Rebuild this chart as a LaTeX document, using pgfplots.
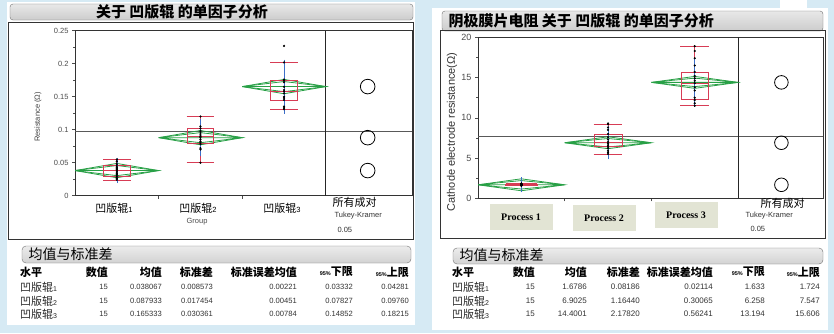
\documentclass[border=0pt]{standalone}
\usepackage{fontspec}
\setmainfont{Liberation Sans}
\newfontfamily\cjk{Noto Sans CJK SC}
\newfontfamily\seriffont{Liberation Serif}
\usepackage{pgfplots}
\pgfplotsset{compat=1.18}
\usepgfplotslibrary{statistics}
\definecolor{bgblue}{RGB}{214,234,244}
\definecolor{dgreen}{RGB}{40,160,70}
\definecolor{boxred}{RGB}{215,60,85}
\definecolor{mblue}{RGB}{60,110,200}
\definecolor{lblbox}{RGB}{226,228,212}
\newcommand{\fs}[1]{\fontsize{#1}{#1}\selectfont}
\pgfplotsset{
 jmp/.style={scale only axis, anchor=south west, axis line style={black!80, line width=0.8pt},
   tick align=outside, ytick pos=left, xtick pos=bottom, major tick length=3pt, minor tick length=2pt,
   tick style={black!70, line width=0.5pt}, minor y tick num=1, xtick={1,2}, xticklabels={},
   yticklabel style={font=\fs{7.5}, text=black!70}},
 diam/.style={dgreen, line width=0.8pt, mark=none},
 bx/.style={boxred, line width=0.7pt, solid, mark=none},
 pts/.style={only marks, mark=*, mark size=0.9pt, black},
 sdbar/.style={mblue, line width=0.6pt, mark=none, error bars/.cd, y dir=both, y explicit, error mark=-,
   error bar style={mblue, line width=0.6pt}, error mark options={mblue, mark size=7pt, line width=0.6pt}},
 grand/.style={black!65, line width=0.6pt, mark=none},
 divider/.style={black!85, line width=0.8pt, mark=none},
 circ/.style={only marks, mark=o, black, line width=0.8pt},
 boxplot/draw direction=y,
}
\begin{document}
\begin{tikzpicture}[x=1pt,y=1pt]
% background
\fill[bgblue] (0,0) rectangle (834,333);
\fill[white] (7,8) rectangle (415,331);
\fill[white] (432,3) rectangle (828,325);
\fill[white] (780,324) rectangle (807,333);
% title bars
\shade[top color=gray!18, bottom color=gray!40, rounded corners=3pt, draw=black!55] (10,313) rectangle (413,329);
\node[font=\cjk\bfseries\fs{15}] at (182,321) {关于 凹版辊 的单因子分析};
\shade[top color=gray!18, bottom color=gray!40, rounded corners=3pt, draw=black!55] (442,302) rectangle (823,322);
\node[font=\cjk\bfseries\fs{15}, anchor=west] at (445,312) {阴极膜片电阻 关于 凹版辊 的单因子分析};
% plot frames
\draw[black!80, line width=0.8pt] (8,94) rectangle (413,311);
\draw[black!80, line width=0.8pt] (440,95) rectangle (825,303);

%================ LEFT AXIS
\begin{axis}[jmp, at={(75pt,137.3pt)}, width=337pt, height=165pt,
  xmin=0, xmax=4.03, ymin=0, ymax=0.25,
  ytick={0,0.05,0.1,0.15,0.2,0.25}, yticklabels={0,0.05,0.1,0.15,0.2,0.25}]
\addplot[grand] coordinates {(0,0.097111) (4.03,0.097111)};
\addplot[divider] coordinates {(3,0) (3,0.25)};
% mean diamonds
\addplot[diam] coordinates {(0,0.038067) (0.5,0.048913) (1,0.038067) (0.5,0.027221) (0,0.038067)};
\addplot[diam] coordinates {(0,0.038067) (0.5,0.045736) (1,0.038067) (0.5,0.030398) (0,0.038067) (1,0.038067)};
\addplot[diam] coordinates {(1,0.087933) (1.5,0.098779) (2,0.087933) (1.5,0.077087) (1,0.087933)};
\addplot[diam] coordinates {(1,0.087933) (1.5,0.095602) (2,0.087933) (1.5,0.080264) (1,0.087933) (2,0.087933)};
\addplot[diam] coordinates {(2,0.165333) (2.5,0.176179) (3,0.165333) (2.5,0.154487) (2,0.165333)};
\addplot[diam] coordinates {(2,0.165333) (2.5,0.173002) (3,0.165333) (2.5,0.157664) (2,0.165333) (3,0.165333)};
% box plots
\addplot[bx, boxplot prepared={draw position=0.5, lower whisker=0.024, lower quartile=0.030, median=0.038, upper quartile=0.046, upper whisker=0.055, box extend=0.32, whisker extend=0.33}] coordinates {};
\addplot[bx, boxplot prepared={draw position=1.5, lower whisker=0.050, lower quartile=0.080, median=0.090, upper quartile=0.102, upper whisker=0.120, box extend=0.32, whisker extend=0.33}] coordinates {};
\addplot[bx, boxplot prepared={draw position=2.5, lower whisker=0.131, lower quartile=0.145, median=0.158, upper quartile=0.175, upper whisker=0.202, box extend=0.32, whisker extend=0.33}] coordinates {};
% mean +- sd
\addplot[sdbar] coordinates {(0.5,0.038067) +- (0,0.008573)};
\addplot[sdbar] coordinates {(1.5,0.087933) +- (0,0.017454)};
\addplot[sdbar] coordinates {(2.5,0.165333) +- (0,0.030361)};
% observations
\addplot[pts] coordinates {(0.5,0.055) (0.5,0.052) (0.5,0.048) (0.5,0.045) (0.5,0.043) (0.5,0.041) (0.5,0.040) (0.5,0.038) (0.5,0.036) (0.5,0.034) (0.5,0.032) (0.5,0.030) (0.5,0.028) (0.5,0.026) (0.5,0.024)};
\addplot[pts] coordinates {(1.5,0.120) (1.5,0.105) (1.5,0.102) (1.5,0.098) (1.5,0.095) (1.5,0.092) (1.5,0.090) (1.5,0.088) (1.5,0.085) (1.5,0.082) (1.5,0.080) (1.5,0.078) (1.5,0.072) (1.5,0.070) (1.5,0.050)};
\addplot[pts] coordinates {(2.5,0.227) (2.5,0.202) (2.5,0.176) (2.5,0.175) (2.5,0.172) (2.5,0.165) (2.5,0.160) (2.5,0.158) (2.5,0.155) (2.5,0.150) (2.5,0.148) (2.5,0.145) (2.5,0.135) (2.5,0.133) (2.5,0.131)};
% comparison circles
\addplot[circ, mark size=7.3pt] coordinates {(3.5,0.038067) (3.5,0.087933) (3.5,0.165333)};
\end{axis}

%================ RIGHT AXIS
\begin{axis}[jmp, at={(478pt,134.7pt)}, width=345pt, height=161pt,
  xmin=0, xmax=3.98, ymin=0, ymax=20,
  ytick={0,5,10,15,20}, yticklabels={0,5,10,15,20}, yticklabel style={font=\fs{9}}]
\addplot[grand] coordinates {(0,7.6604) (3.98,7.6604)};
\addplot[divider] coordinates {(3,0) (3,20)};
\addplot[diam] coordinates {(0,1.6786) (0.5,2.4216) (1,1.6786) (0.5,0.9356) (0,1.6786)};
\addplot[diam] coordinates {(0,1.6786) (0.5,2.2040) (1,1.6786) (0.5,1.1532) (0,1.6786) (1,1.6786)};
\addplot[diam] coordinates {(1,6.9025) (1.5,7.6455) (2,6.9025) (1.5,6.1595) (1,6.9025)};
\addplot[diam] coordinates {(1,6.9025) (1.5,7.4279) (2,6.9025) (1.5,6.3771) (1,6.9025) (2,6.9025)};
\addplot[diam] coordinates {(2,14.4001) (2.5,15.1431) (3,14.4001) (2.5,13.6571) (2,14.4001)};
\addplot[diam] coordinates {(2,14.4001) (2.5,14.9255) (3,14.4001) (2.5,13.8747) (2,14.4001) (3,14.4001)};
\addplot[bx, line width=1.2pt, boxplot prepared={draw position=0.5, lower whisker=1.55, lower quartile=1.62, median=1.68, upper quartile=1.75, upper whisker=1.85, box extend=0.36, whisker extend=0.36}] coordinates {};
\addplot[bx, boxplot prepared={draw position=1.5, lower whisker=5.5, lower quartile=6.4, median=7.0, upper quartile=8.0, upper whisker=9.2, box extend=0.32, whisker extend=0.33}] coordinates {};
\addplot[bx, boxplot prepared={draw position=2.5, lower whisker=11.5, lower quartile=12.3, median=14.3, upper quartile=15.7, upper whisker=18.9, box extend=0.32, whisker extend=0.33}] coordinates {};
\addplot[sdbar] coordinates {(0.5,1.6786) +- (0,0.08186)};
\addplot[sdbar] coordinates {(1.5,6.9025) +- (0,1.16440)};
\addplot[sdbar] coordinates {(2.5,14.4001) +- (0,2.17820)};
\addplot[pts] coordinates {(0.5,1.55) (0.5,1.60) (0.5,1.62) (0.5,1.65) (0.5,1.67) (0.5,1.68) (0.5,1.70) (0.5,1.71) (0.5,1.72) (0.5,1.75) (0.5,1.78) (0.5,1.80) (0.5,1.85) (0.5,1.66) (0.5,1.63)};
\addplot[pts] coordinates {(1.5,9.3) (1.5,9.2) (1.5,8.8) (1.5,8.5) (1.5,8.0) (1.5,7.6) (1.5,7.3) (1.5,7.0) (1.5,6.8) (1.5,6.6) (1.5,6.4) (1.5,6.2) (1.5,5.9) (1.5,5.7) (1.5,5.5)};
\addplot[pts] coordinates {(2.5,18.9) (2.5,18.3) (2.5,17.4) (2.5,16.5) (2.5,15.7) (2.5,15.2) (2.5,14.9) (2.5,14.6) (2.5,14.3) (2.5,13.8) (2.5,13.4) (2.5,12.5) (2.5,12.2) (2.5,11.8) (2.5,11.5)};
\addplot[circ, mark size=6.8pt] coordinates {(3.5,1.6786) (3.5,6.9025) (3.5,14.4001)};
\end{axis}

% ---- left axis labels
\node[rotate=90, font=\fs{7.5}, text=black!75] at (38,216) {Resistance (Ω)};
\foreach \x/\d in {114/1,198/2,282/3}{\node at (\x,125) {\fs{11}\cjk 凹版辊{\rmfamily\fs{7.5}\d}};}
\node[font=\fs{7.5}, text=black!70] at (197,111) {Group};
\node[anchor=west, font=\cjk\fs{11}] at (329,131) {所有成对};
\node[anchor=west, font=\fs{7.5}, text=black!80] at (331,117) {Tukey-Kramer};
\node[anchor=west, font=\fs{7.5}, text=black!80] at (334,103) {0.05};

% ---- right axis labels
\node[rotate=90, font=\fs{11}, text=black!80] at (452,201) {Cathode electrode resistance(Ω)};
\foreach \x/\y/\d in {521/116/1,604/115/2,686/118/3}{
  \node[fill=lblbox, minimum width=63pt, minimum height=26pt, font=\seriffont\bfseries\fs{10}] at (\x,\y) {Process \d};}
\node[anchor=west, font=\cjk\fs{11}] at (757,130) {所有成对};
\node[anchor=west, font=\fs{7.5}, text=black!80] at (742,117) {Tukey-Kramer};
\node[anchor=west, font=\fs{7.5}, text=black!80] at (747,104) {0.05};

% ---- left table
\shade[top color=gray!15, bottom color=gray!35, rounded corners=4pt, draw=black!55] (22,70) rectangle (411,87);
\node[anchor=west, font=\cjk\fs{14}] at (25,78.5) {均值与标准差};
\begin{scope}[every node/.style={font=\cjk\bfseries\fs{11}, inner sep=0pt}]
\node[anchor=west] at (20,61) {水平};
\node[anchor=east] at (108,61) {数值};
\node[anchor=east] at (162,61) {均值};
\node[anchor=east] at (213,61) {标准差};
\node[anchor=east] at (297,61) {标准误差均值};
\node[anchor=east] at (353,61) {{\rmfamily\fs{5.5}95\%}下限};
\node[anchor=east] at (409,61) {{\rmfamily\fs{5.5}95\%}上限};
\end{scope}
\begin{scope}[every node/.style={font=\fs{7.6}, text=black!80, inner sep=0pt}]
\foreach \y/\d/\n/\m/\s/\se/\lo/\hi in {
  46/1/15/0.038067/0.008573/0.00221/0.03332/0.04281,
  32/2/15/0.087933/0.017454/0.00451/0.07827/0.09760,
  19/3/15/0.165333/0.030361/0.00784/0.14852/0.18215}{
  \node[anchor=west, font=\cjk\fs{11}, text=black!85] at (20,\y) {凹版辊{\rmfamily\fs{7}\d}};
  \node[anchor=east] at (108,\y) {\n};
  \node[anchor=east] at (162,\y) {\m};
  \node[anchor=east] at (213,\y) {\s};
  \node[anchor=east] at (297,\y) {\se};
  \node[anchor=east] at (353,\y) {\lo};
  \node[anchor=east] at (409,\y) {\hi};
}
\end{scope}

% ---- right table
\shade[top color=gray!15, bottom color=gray!35, rounded corners=4pt, draw=black!55] (453,69) rectangle (823,85);
\node[anchor=west, font=\cjk\fs{14}] at (456,77.5) {均值与标准差};
\begin{scope}[every node/.style={font=\cjk\bfseries\fs{11}, inner sep=0pt}]
\node[anchor=west] at (452,61) {水平};
\node[anchor=east] at (535,61) {数值};
\node[anchor=east] at (587,61) {均值};
\node[anchor=east] at (640,61) {标准差};
\node[anchor=east] at (713,61) {标准误差均值};
\node[anchor=east] at (765,61) {{\rmfamily\fs{5.5}95\%}下限};
\node[anchor=east] at (820,61) {{\rmfamily\fs{5.5}95\%}上限};
\end{scope}
\begin{scope}[every node/.style={font=\fs{8}, text=black!80, inner sep=0pt}]
\foreach \y/\d/\n/\m/\s/\se/\lo/\hi in {
  46/1/15/1.6786/0.08186/0.02114/1.633/1.724,
  32/2/15/6.9025/1.16440/0.30065/6.258/7.547,
  19/3/15/14.4001/2.17820/0.56241/13.194/15.606}{
  \node[anchor=west, font=\cjk\fs{11}, text=black!85] at (452,\y) {凹版辊{\rmfamily\fs{7}\d}};
  \node[anchor=east] at (535,\y) {\n};
  \node[anchor=east] at (587,\y) {\m};
  \node[anchor=east] at (640,\y) {\s};
  \node[anchor=east] at (713,\y) {\se};
  \node[anchor=east] at (765,\y) {\lo};
  \node[anchor=east] at (820,\y) {\hi};
}
\end{scope}
\pgfresetboundingbox
\useasboundingbox (0,0) rectangle (834,333);
\end{tikzpicture}
\end{document}
